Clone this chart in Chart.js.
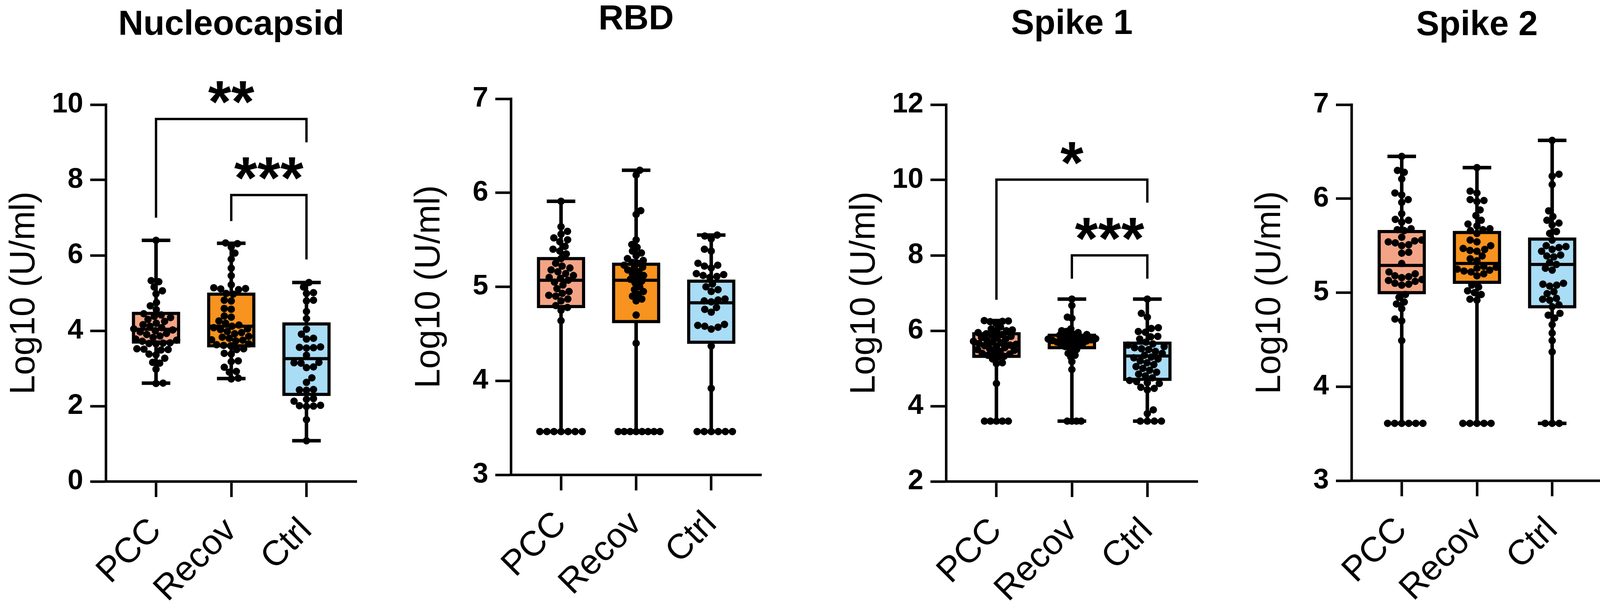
<!DOCTYPE html>
<html>
<head>
<meta charset="utf-8">
<script src="https://cdn.jsdelivr.net/npm/chart.js@4.4.1/dist/chart.umd.min.js"></script>
<style>
  html, body { margin: 0; padding: 0; background: #fff; overflow: hidden; }
  #wrap { position: relative; width: 4118px; height: 1552px; }
  canvas { position: absolute; top: 0; }
</style>
</head>
<body>
<div id="wrap"></div>
<script>
// ---- data ----
const groupLabels = ["PCC", "Recov", "Ctrl"];
const panelTitles = ["Nucleocapsid", "RBD", "Spike 1", "Spike 2"];
const yAxisTitle = "Log10 (U/ml)";
const yMins = [0, 3, 2, 3];
const yMaxs = [10, 7, 12, 7];
const ySteps = [2, 1, 2, 1];

// Nucleocapsid
const nucPCC = [6.40, 5.33, 5.30, 5.16, 5.06, 4.98, 4.75, 4.66, 4.56, 4.45, 4.42, 4.38, 4.35, 4.30, 4.25, 4.20, 4.16, 4.12, 4.08, 4.05, 4.02, 4.00, 3.97, 3.93, 3.90, 3.86, 3.82, 3.78, 3.75, 3.72, 3.68, 3.67, 3.66, 3.65, 3.52, 3.51, 3.50, 3.49, 3.38, 3.36, 3.27, 3.16, 3.14, 2.98, 2.61, 2.60];
const nucRecov = [6.33, 6.31, 6.22, 6.06, 5.90, 5.66, 5.46, 5.22, 5.14, 5.12, 5.11, 5.09, 4.99, 4.97, 4.81, 4.79, 4.59, 4.57, 4.39, 4.36, 4.26, 4.20, 4.15, 4.12, 4.08, 4.05, 4.03, 3.98, 3.95, 3.92, 3.85, 3.83, 3.80, 3.76, 3.75, 3.73, 3.65, 3.63, 3.61, 3.60, 3.52, 3.50, 3.40, 3.38, 3.20, 3.18, 3.03, 2.92, 2.90, 2.74, 2.72];
const nucCtrl = [5.28, 5.16, 5.01, 4.99, 4.81, 4.79, 4.51, 4.32, 4.04, 3.91, 3.80, 3.78, 3.57, 3.56, 3.55, 3.54, 3.35, 3.16, 3.15, 3.14, 3.04, 3.02, 2.75, 2.63, 2.44, 2.43, 2.42, 2.20, 2.18, 2.13, 2.02, 2.01, 2.00, 1.99, 1.64, 1.08];
// RBD
const rbdPCC = [5.91, 5.64, 5.59, 5.56, 5.52, 5.50, 5.48, 5.43, 5.40, 5.38, 5.35, 5.30, 5.25, 5.22, 5.20, 5.18, 5.16, 5.14, 5.12, 5.10, 5.09, 5.07, 5.05, 5.02, 4.98, 4.95, 4.93, 4.91, 4.90, 4.87, 4.85, 4.80, 4.78, 4.75, 4.64, 3.46, 3.46, 3.46, 3.46, 3.46, 3.46, 3.46];
const rbdRecov = [6.24, 6.19, 5.81, 5.77, 5.50, 5.45, 5.42, 5.38, 5.36, 5.33, 5.30, 5.28, 5.26, 5.25, 5.23, 5.21, 5.20, 5.18, 5.16, 5.14, 5.12, 5.10, 5.08, 5.06, 5.04, 5.00, 4.97, 4.95, 4.92, 4.90, 4.87, 4.85, 4.70, 4.40, 3.46, 3.46, 3.46, 3.46, 3.46, 3.46, 3.46, 3.46];
const rbdCtrl = [5.55, 5.54, 5.51, 5.40, 5.38, 5.25, 5.23, 5.22, 5.20, 5.14, 5.13, 5.12, 5.11, 5.10, 5.03, 5.00, 4.97, 4.95, 4.87, 4.86, 4.85, 4.84, 4.78, 4.76, 4.73, 4.60, 4.59, 4.58, 4.57, 4.55, 4.37, 3.92, 3.46, 3.46, 3.46, 3.46, 3.46, 3.46];
// Spike 1
const s1PCC = [6.27, 6.26, 6.25, 6.24, 6.20, 6.10, 6.05, 6.02, 6.00, 5.98, 5.95, 5.92, 5.90, 5.88, 5.85, 5.82, 5.80, 5.78, 5.75, 5.72, 5.70, 5.68, 5.66, 5.64, 5.62, 5.60, 5.58, 5.55, 5.52, 5.50, 5.48, 5.45, 5.42, 5.40, 5.38, 5.35, 5.32, 5.30, 5.25, 5.15, 5.13, 4.60, 3.60, 3.60, 3.60, 3.60, 3.60];
const s1Recov = [6.84, 6.67, 6.36, 6.33, 6.05, 6.00, 5.98, 5.95, 5.93, 5.90, 5.88, 5.86, 5.84, 5.82, 5.80, 5.79, 5.78, 5.77, 5.76, 5.75, 5.74, 5.73, 5.72, 5.71, 5.70, 5.68, 5.66, 5.64, 5.62, 5.60, 5.58, 5.55, 5.50, 5.45, 5.40, 5.35, 5.30, 5.18, 4.97, 3.60, 3.60, 3.60, 3.60];
const s1Ctrl = [6.84, 6.46, 6.36, 6.08, 6.06, 5.98, 5.96, 5.85, 5.84, 5.78, 5.70, 5.65, 5.62, 5.58, 5.55, 5.52, 5.50, 5.45, 5.40, 5.35, 5.30, 5.28, 5.25, 5.20, 5.15, 5.10, 5.05, 5.00, 4.95, 4.90, 4.85, 4.80, 4.75, 4.68, 4.65, 4.62, 4.60, 4.50, 4.47, 4.43, 3.90, 3.80, 3.60, 3.60, 3.60, 3.60];
// Spike 2
const s2PCC = [6.45, 6.30, 6.28, 6.21, 6.06, 6.04, 5.99, 5.96, 5.84, 5.78, 5.77, 5.75, 5.68, 5.67, 5.66, 5.59, 5.56, 5.55, 5.54, 5.53, 5.51, 5.50, 5.43, 5.42, 5.31, 5.22, 5.20, 5.18, 5.17, 5.16, 5.14, 5.13, 5.12, 5.10, 5.09, 5.08, 4.98, 4.95, 4.90, 4.88, 4.83, 4.72, 4.70, 4.49, 3.61, 3.61, 3.61, 3.61, 3.61, 3.61];
const s2Recov = [6.33, 6.08, 6.06, 5.99, 5.98, 5.97, 5.88, 5.82, 5.77, 5.73, 5.71, 5.68, 5.67, 5.66, 5.63, 5.56, 5.54, 5.50, 5.47, 5.46, 5.45, 5.44, 5.39, 5.36, 5.34, 5.28, 5.27, 5.26, 5.25, 5.24, 5.23, 5.22, 5.20, 5.18, 5.08, 5.06, 5.02, 5.00, 4.98, 4.93, 4.92, 3.61, 3.61, 3.61, 3.61, 3.61];
const s2Ctrl = [6.62, 6.26, 6.24, 6.15, 5.87, 5.81, 5.77, 5.74, 5.72, 5.65, 5.63, 5.56, 5.50, 5.49, 5.48, 5.46, 5.44, 5.40, 5.39, 5.38, 5.32, 5.30, 5.26, 5.24, 5.10, 5.09, 5.08, 5.07, 5.01, 4.99, 4.94, 4.93, 4.92, 4.87, 4.85, 4.78, 4.76, 4.73, 4.66, 4.57, 4.49, 4.37, 3.61, 3.61, 3.61];

// box stats per group: [min, q1, median, q3, max]
const nucBoxes = [[2.61, 3.70, 4.04, 4.46, 6.40], [2.73, 3.60, 4.12, 4.97, 6.32], [1.08, 2.31, 3.26, 4.18, 5.28]];
const rbdBoxes = [[3.46, 4.79, 5.07, 5.30, 5.91], [3.46, 4.63, 5.07, 5.24, 6.24], [3.46, 4.41, 4.83, 5.06, 5.55]];
const s1Boxes = [[3.60, 5.32, 5.65, 5.92, 6.27], [3.60, 5.55, 5.75, 5.88, 6.84], [3.60, 4.71, 5.33, 5.67, 6.84]];
const s2Boxes = [[3.61, 5.00, 5.29, 5.65, 6.45], [3.61, 5.11, 5.31, 5.64, 6.33], [3.61, 4.85, 5.30, 5.57, 6.62]];

// significance bars: [fromGroup, toGroup, barY, leftLegEnd, rightLegEnd, label]
const nucSig = [[0, 2, 9.62, 7.00, 9.00, "**"], [1, 2, 7.60, 6.91, 5.89, "***"]];
const s1Sig = [[0, 2, 10.01, 6.82, 9.40, "*"], [1, 2, 8.00, 7.38, 7.38, "***"]];

const panelGroups = [[nucPCC, nucRecov, nucCtrl], [rbdPCC, rbdRecov, rbdCtrl], [s1PCC, s1Recov, s1Ctrl], [s2PCC, s2Recov, s2Ctrl]];
const panelBoxes = [nucBoxes, rbdBoxes, s1Boxes, s2Boxes];
const panelSigs = [nucSig, [], s1Sig, []];

// ---- layout / style ----
const FONT = "'Liberation Sans', Arial, Helvetica, sans-serif";
const groupColors = ["#F4A486", "#F7931E", "#A9DCF5"];
// chart areas [left, top, right, bottom] in page pixels
const panelAreas = [[271, 268, 913, 1233], [1308, 253, 1949, 1216], [2422, 268, 3066, 1233], [3460, 268, 4102, 1231]];
const titleMids = [64, 50, 62, 65];
const MARGIN = 271;
const XPAD = 0.667;
const BOX_HALF = 0.30;
const CAP_HALF = 0.19;
const DOT_R = 9.5;
const LINE = 6.5;

Chart.defaults.font.family = FONT;
Chart.defaults.color = "#000";

const boxPlugin = {
    id: "boxes",
    beforeDatasetsDraw(chart, args, opts) {
        const ctx = chart.ctx;
        const xs = chart.scales.x, ys = chart.scales.y;
        ctx.save();
        ctx.strokeStyle = "#000";
        ctx.lineCap = "butt";
        opts.stats.forEach((st, gi) => {
            const [mn, q1, md, q3, mx] = st;
            const xc = xs.getPixelForValue(gi);
            const xl = xs.getPixelForValue(gi - BOX_HALF), xr = xs.getPixelForValue(gi + BOX_HALF);
            const cl = xs.getPixelForValue(gi - CAP_HALF), cr = xs.getPixelForValue(gi + CAP_HALF);
            // whiskers + caps
            ctx.lineWidth = 9;
            ctx.beginPath();
            ctx.moveTo(xc, ys.getPixelForValue(mx)); ctx.lineTo(xc, ys.getPixelForValue(q3));
            ctx.moveTo(xc, ys.getPixelForValue(q1)); ctx.lineTo(xc, ys.getPixelForValue(mn));
            ctx.moveTo(cl, ys.getPixelForValue(mx)); ctx.lineTo(cr, ys.getPixelForValue(mx));
            ctx.moveTo(cl, ys.getPixelForValue(mn)); ctx.lineTo(cr, ys.getPixelForValue(mn));
            ctx.stroke();
            // box
            const yt = ys.getPixelForValue(q3), yb = ys.getPixelForValue(q1);
            ctx.fillStyle = opts.colors[gi];
            ctx.fillRect(xl, yt, xr - xl, yb - yt);
            ctx.lineWidth = 8;
            ctx.strokeRect(xl, yt, xr - xl, yb - yt);
            ctx.beginPath();
            ctx.moveTo(xl, ys.getPixelForValue(md)); ctx.lineTo(xr, ys.getPixelForValue(md));
            ctx.stroke();
        });
        ctx.restore();
    }
};

const sigPlugin = {
    id: "sigBars",
    afterDatasetsDraw(chart, args, opts) {
        if (!opts.bars || !opts.bars.length) return;
        const ctx = chart.ctx;
        const xs = chart.scales.x, ys = chart.scales.y;
        ctx.save();
        ctx.strokeStyle = "#000";
        ctx.fillStyle = "#000";
        ctx.lineWidth = 6;
        ctx.lineJoin = "miter";
        opts.bars.forEach(b => {
            const [a, c, yBar, yL, yR, label] = b;
            const xa = xs.getPixelForValue(a), xc = xs.getPixelForValue(c);
            const yb = ys.getPixelForValue(yBar);
            ctx.beginPath();
            ctx.moveTo(xa, ys.getPixelForValue(yL));
            ctx.lineTo(xa, yb);
            ctx.lineTo(xc, yb);
            ctx.lineTo(xc, ys.getPixelForValue(yR));
            ctx.stroke();
            ctx.font = "bold 152px " + FONT;
            ctx.textAlign = "center";
            ctx.textBaseline = "alphabetic";
            const m = ctx.measureText(label);
            const glyphMid = (m.actualBoundingBoxAscent - m.actualBoundingBoxDescent) / 2;
            ctx.fillText(label, (xa + xc) / 2, yb - 68 + glyphMid);
        });
        ctx.restore();
    }
};

// beeswarm spread, done in pixel space and turned back into x values
function placeSwarm(pys, d) {
    const order = pys.map((p, i) => i).sort((a, b) => pys[b] - pys[a]);
    const out = new Array(pys.length).fill(0);
    const done = [];
    let flip = 1;
    order.forEach(i => {
        const py = pys[i];
        const near = done.filter(j => Math.abs(pys[j] - py) < d);
        const cands = [0];
        near.forEach(j => {
            const dx = Math.sqrt(d * d - (pys[j] - py) ** 2);
            cands.push(out[j] + dx, out[j] - dx);
        });
        cands.sort((p, q) => (Math.abs(p) - Math.abs(q)) || (p - q) * flip);
        const ok = cands.find(c => near.every(j => (c - out[j]) ** 2 + (pys[j] - py) ** 2 >= d * d - 0.01));
        out[i] = ok === undefined ? cands[cands.length - 1] : ok;
        flip = -flip;
        done.push(i);
    });
    return out;
}

function swarm(pys, minDist, maxSpread) {
    let d = minDist, offs;
    while (true) {
        offs = placeSwarm(pys, d);
        if (Math.max(...offs.map(Math.abs)) <= maxSpread || d < 4) break;
        d *= 0.92;
    }
    return offs;
}

function applySwarm(chart, groups) {
    const xs = chart.scales.x, ys = chart.scales.y;
    const unit = xs.getPixelForValue(1) - xs.getPixelForValue(0);
    groups.forEach((vals, gi) => {
        const pys = vals.map(v => ys.getPixelForValue(v));
        const offs = swarm(pys, DOT_R * 2 * 0.95, 64);
        chart.data.datasets[gi].data = vals.map((v, k) => ({ x: gi + offs[k] / unit, y: v }));
    });
    chart.update("none");
}

function makePanel(i) {
    const [L, T, R, B] = panelAreas[i];
    const W = MARGIN + (R - L) + MARGIN;
    const canvas = document.createElement("canvas");
    canvas.width = W;
    canvas.height = 1552;
    canvas.style.left = (L - MARGIN) + "px";
    canvas.style.width = W + "px";
    canvas.style.height = "1552px";
    document.getElementById("wrap").appendChild(canvas);

    const groups = panelGroups[i];
    const titleTop = titleMids[i] - 44.5;
    const gridStyle = { drawOnChartArea: false, drawTicks: true, tickLength: 40, tickWidth: LINE, tickColor: "#000" };
    const borderStyle = { display: true, width: LINE, color: "#000" };

    const chart = new Chart(canvas.getContext("2d"), {
        type: "scatter",
        data: {
            datasets: groups.map((vals, gi) => ({
                label: groupLabels[gi],
                data: vals.map(v => ({ x: gi, y: v })),
                pointRadius: DOT_R,
                pointHoverRadius: DOT_R,
                pointBackgroundColor: "#000",
                pointBorderWidth: 0,
                showLine: false
            }))
        },
        options: {
            responsive: false,
            animation: false,
            devicePixelRatio: 1,
            events: [],
            layout: { padding: 0 },
            plugins: {
                legend: { display: false },
                tooltip: { enabled: false },
                title: {
                    display: true,
                    text: panelTitles[i],
                    color: "#000",
                    font: { size: 89, weight: "bold", lineHeight: 1 },
                    padding: { top: titleTop, bottom: T - titleTop - 89 }
                },
                boxes: { stats: panelBoxes[i], colors: groupColors },
                sigBars: { bars: panelSigs[i] }
            },
            scales: {
                x: {
                    type: "linear",
                    min: -XPAD,
                    max: 2 + XPAD,
                    afterBuildTicks: s => { s.ticks = groupLabels.map((_, k) => ({ value: k })); },
                    afterFit: s => { s.height = 1552 - B; s.paddingLeft = 0; s.paddingRight = 0; },
                    ticks: {
                        callback: v => groupLabels[v],
                        autoSkip: false,
                        minRotation: 45,
                        maxRotation: 45,
                        padding: 34,
                        font: { size: 90 },
                        color: "#000"
                    },
                    grid: gridStyle,
                    border: borderStyle
                },
                y: {
                    min: yMins[i],
                    max: yMaxs[i],
                    afterFit: s => { s.width = MARGIN; s.paddingTop = 0; s.paddingBottom = 0; },
                    ticks: { stepSize: ySteps[i], padding: 18, font: { size: 72, weight: "bold" }, color: "#000" },
                    title: { display: true, text: yAxisTitle, color: "#000", font: { size: 90, lineHeight: 1 }, padding: { top: 18, bottom: 0 } },
                    grid: gridStyle,
                    border: borderStyle
                },
                // empty spacer on the right so the title sits centred over the plot
                yPad: {
                    position: "right",
                    display: true,
                    min: 0,
                    max: 1,
                    grid: { display: false },
                    border: { display: false },
                    ticks: { display: false },
                    afterFit: s => { s.width = MARGIN; s.paddingTop = 0; s.paddingBottom = 0; }
                }
            }
        },
        plugins: [boxPlugin, sigPlugin]
    });
    applySwarm(chart, groups);
}

panelTitles.forEach((t, i) => makePanel(i));
</script>
</body>
</html>
